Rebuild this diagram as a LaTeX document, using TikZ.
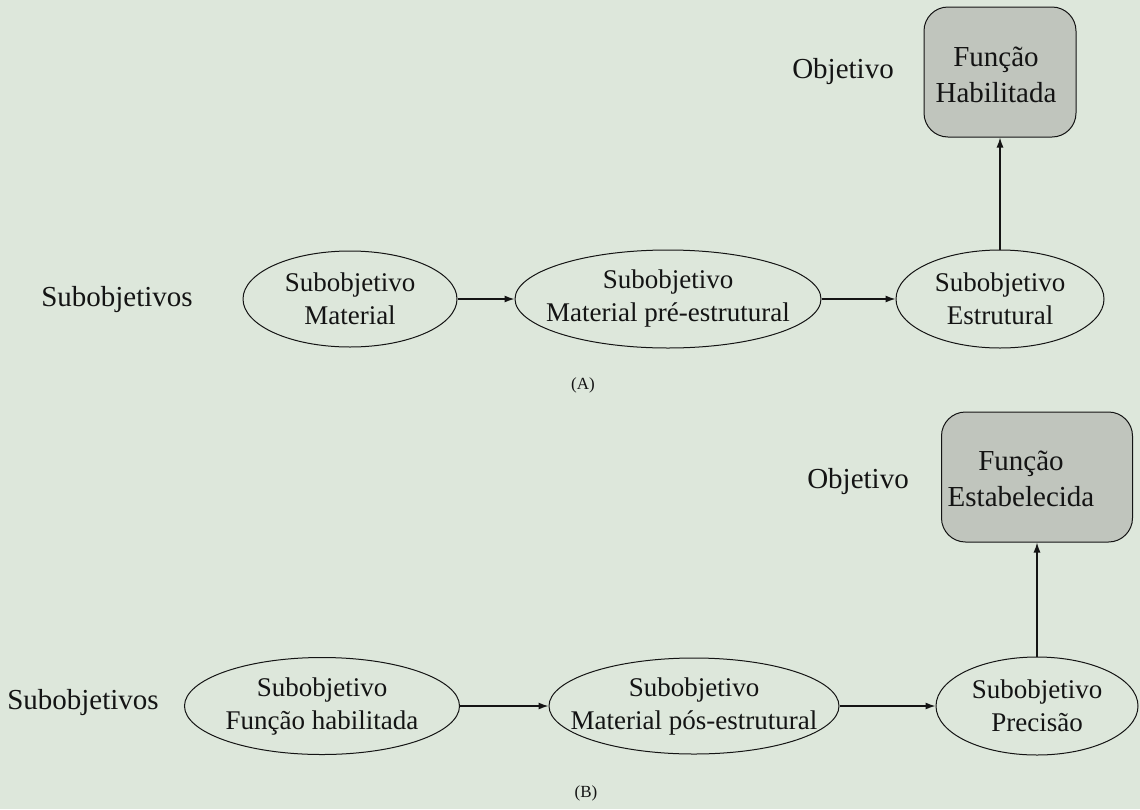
\documentclass[tikz,border=0pt]{standalone}
\usepackage{fontspec}
\setmainfont{Liberation Serif}
\usetikzlibrary{arrows.meta,shapes.geometric}
\definecolor{paper}{RGB}{221,231,219}
\definecolor{boxfill}{RGB}{192,197,189}
\definecolor{ink}{RGB}{20,20,20}
\begin{document}
\begin{tikzpicture}[x=1pt,y=-1pt,
  every node/.style={text=ink},
  rowlabel/.style={font=\fontsize{29}{34}\selectfont, inner sep=0pt},
  caption/.style={font=\fontsize{17}{20}\selectfont, inner sep=0pt},
  subgoal/.style={ellipse, draw=ink, line width=1pt, inner sep=0pt},
  subtext/.style={align=center, inner sep=0pt, font=\fontsize{27}{33}\selectfont},
  goalbox/.style={draw=ink, fill=boxfill, line width=1pt, rounded corners=24pt,
    minimum height=130pt, inner sep=0pt},
  goaltext/.style={align=center, inner sep=0pt, font=\fontsize{29}{36}\selectfont},
  flow/.style={draw=ink, line width=1.3pt, -{Latex[length=10pt,width=7pt]}}
]
% page
\fill[paper] (0,0) rectangle (1140,809);
\useasboundingbox (0,0) rectangle (1140,809);

% ---------- (A) ----------
\node[rowlabel] (objA) at (843,72) {Objetivo};
\node[goalbox, minimum width=152pt] (goalA) at (1000,72) {};
\node[goaltext] (goalAt) at (996,75) {Função\\Habilitada};

\node[rowlabel] (subsA) at (117,300) {Subobjetivos};
\node[subgoal, minimum width=214pt, minimum height=96pt] (a1) at (350,299) {};
\node[subtext] (a1t) at (a1) {Subobjetivo\\Material};
\node[subgoal, minimum width=306pt, minimum height=98pt] (a2) at (668,299) {};
\node[subtext] (a2t) at (a2) {Subobjetivo\\Material pré-estrutural};
\node[subgoal, minimum width=208pt, minimum height=98pt] (a3) at (1000,299) {};
\node[subtext] (a3t) at (a3) {Subobjetivo\\Estrutural};

\draw[flow] (a1.east) -- (a2.west);
\draw[flow] (a2.east) -- (a3.west);
\draw[flow] (a3.north) -- (goalA.south);

\node[caption] (capA) at (583,385) {(A)};

% ---------- (B) ----------
\node[rowlabel] (objB) at (858,482) {Objetivo};
\node[goalbox, minimum width=191pt] (goalB) at (1037,477) {};
\node[goaltext] (goalBt) at (1021,479) {Função\\Estabelecida};

\node[rowlabel] (subsB) at (83,703) {Subobjetivos};
\node[subgoal, minimum width=275pt, minimum height=97pt] (b1) at (322,706) {};
\node[subtext] (b1t) at (b1) {Subobjetivo\\Função habilitada};
\node[subgoal, minimum width=290pt, minimum height=96pt] (b2) at (694,706) {};
\node[subtext] (b2t) at (b2) {Subobjetivo\\Material pós-estrutural};
\node[subgoal, minimum width=202pt, minimum height=98pt] (b3) at (1037,706) {};
\node[subtext] (b3t) at (b3) {Subobjetivo\\Precisão};

\draw[flow] (b1.east) -- (b2.west);
\draw[flow] (b2.east) -- (b3.west);
\draw[flow] (b3.north) -- (goalB.south);

\node[caption] (capB) at (586,793) {(B)};
\end{tikzpicture}
\end{document}
